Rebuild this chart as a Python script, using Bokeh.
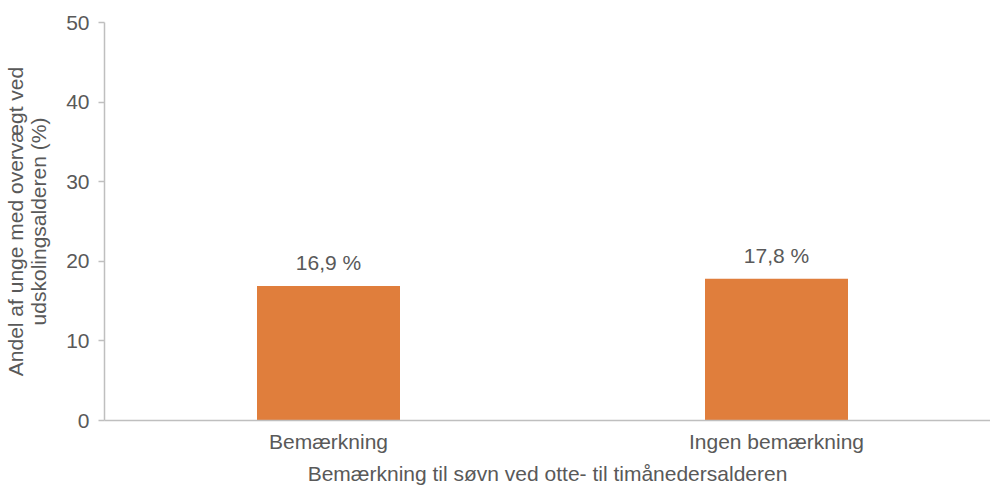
from bokeh.plotting import figure
from bokeh.models import Range1d, FixedTicker, ColumnDataSource
from bokeh.embed import file_html
from bokeh.resources import INLINE
from bokeh.core.properties import value

categories = ["Bemærkning", "Ingen bemærkning"]
values = [16.9, 17.8]
y_ticks = [0, 10, 20, 30, 40, 50]

FONT = "Liberation Sans"
TXT = "#595959"
AX = "#BFBFBF"
BAR = "#E07E3C"
FS = "21px"

xpos = [i + 0.5 for i in range(len(categories))]
labels = [f"{v:.1f}".replace(".", ",") + " %" for v in values]
src = ColumnDataSource(dict(x=xpos, top=values, label=labels))

W, H = 990, 487
left_border = 104
frame_w = W - left_border
unit = 448.0

p = figure(width=W, height=H, output_backend="svg", toolbar_location=None,
           x_range=Range1d(0, frame_w / unit), y_range=Range1d(0, 50),
           min_border_left=left_border, min_border_right=0, min_border_top=22,
           min_border_bottom=10)
p.outline_line_color = None
p.background_fill_color = "white"
p.border_fill_color = "white"
p.xgrid.grid_line_color = None
p.ygrid.grid_line_color = None

p.vbar(x="x", top="top", width=143 / unit, bottom=0, source=src,
       fill_color=BAR, line_color=None)
p.text(x="x", y="top", text="label", source=src, text_align="center",
       text_baseline="alphabetic", y_offset=-23, text_color=TXT,
       text_font=value(FONT), text_font_size=FS)

xa = p.xaxis[0]
xa.ticker = FixedTicker(ticks=xpos)
xa.major_label_overrides = {x: c for x, c in zip(xpos, categories)}
xa.major_tick_line_color = None
xa.minor_tick_line_color = None
xa.major_tick_in = 0
xa.major_tick_out = 0
xa.axis_line_color = AX
xa.axis_line_width = 1.5
xa.major_label_standoff = 9
xa.major_label_text_font = FONT
xa.major_label_text_font_size = FS
xa.major_label_text_color = TXT
xa.major_label_text_line_height = 1.0
xa.axis_label = "Bemærkning til søvn ved otte- til timånedersalderen"
xa.axis_label_text_font = FONT
xa.axis_label_text_font_size = FS
xa.axis_label_text_font_style = "normal"
xa.axis_label_text_color = TXT
xa.axis_label_text_line_height = 1.0
xa.axis_label_standoff = 6

ya = p.yaxis[0]
ya.ticker = FixedTicker(ticks=y_ticks)
ya.axis_line_color = AX
ya.axis_line_width = 1.5
ya.major_tick_line_color = AX
ya.major_tick_line_width = 1.5
ya.major_tick_in = 0
ya.major_tick_out = 6
ya.minor_tick_line_color = None
ya.major_label_standoff = 9
ya.major_label_text_font = FONT
ya.major_label_text_font_size = FS
ya.major_label_text_color = TXT
ya.axis_label = "Andel af unge med overvægt ved\nudskolingsalderen (%)"
ya.axis_label_text_font = FONT
ya.axis_label_text_font_size = FS
ya.axis_label_text_font_style = "normal"
ya.axis_label_text_color = TXT
ya.axis_label_text_line_height = 1.0
ya.axis_label_standoff = 13

open("out.html", "w").write(file_html(p, INLINE))
